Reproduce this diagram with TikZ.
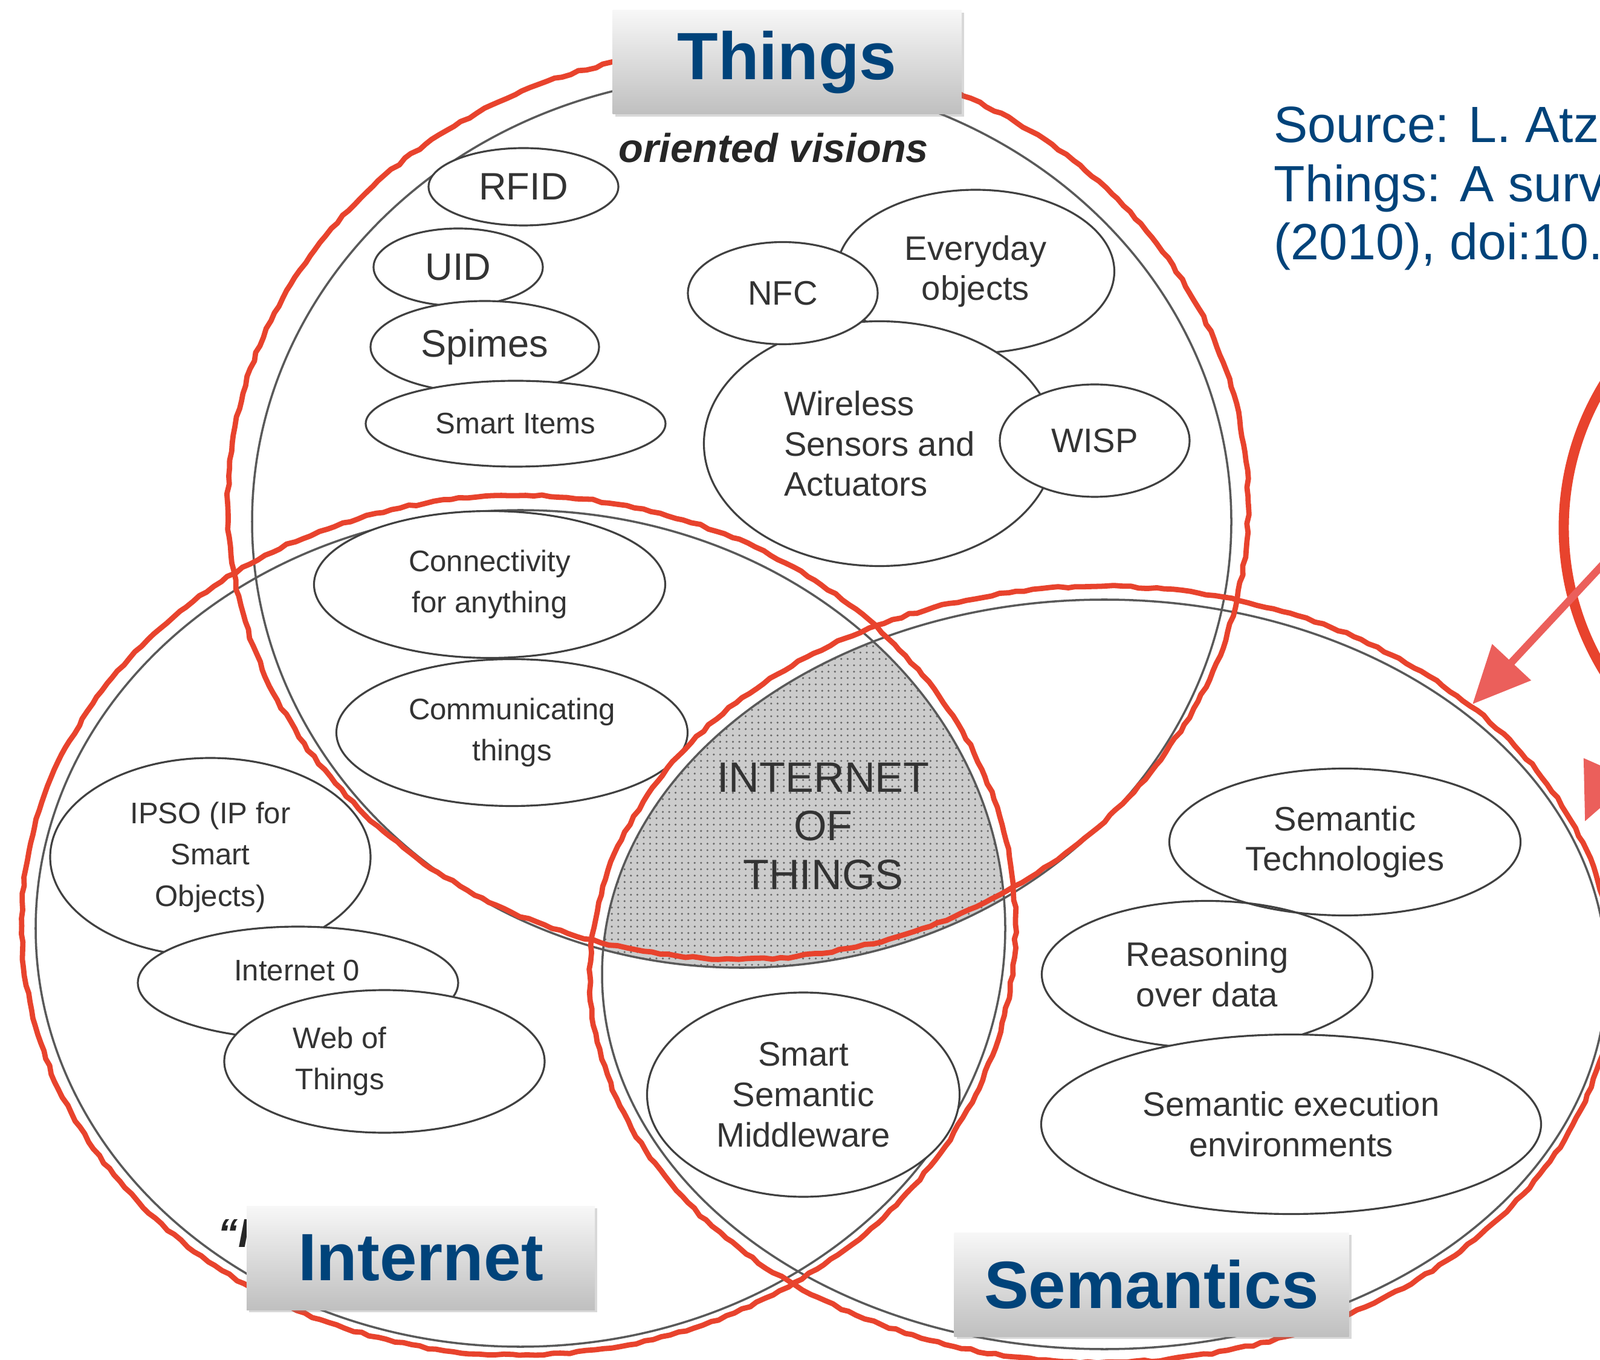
\documentclass[tikz,border=0pt]{standalone}
\usepackage{fontspec}
\setmainfont{Liberation Sans}
\usetikzlibrary{shapes.geometric,arrows.meta,patterns,shadows,decorations.pathmorphing}
\definecolor{ringred}{HTML}{E8432D}
\definecolor{arrowred}{HTML}{EB5F5B}
\definecolor{titleblue}{HTML}{00437A}
\definecolor{inkgray}{HTML}{333333}

\begin{document}
\begin{tikzpicture}[
  bubble/.style={draw=black!75, line width=0.9pt, ellipse, inner sep=0pt, align=center, text=inkgray, font=\fontsize{16}{19}\selectfont},
  filled/.style={bubble, fill=white},
  words/.style={align=center, inner sep=0pt, text=inkgray, font=\fontsize{14}{19.5}\selectfont},
  small/.style={font=\fontsize{14}{19.5}\selectfont},
  big/.style={font=\fontsize{18}{21}\selectfont},
  grayring/.style={draw=black!65, line width=1pt},
  redring/.style={draw=ringred, line width=2.5pt, line join=round, decorate, decoration={random steps, segment length=4pt, amplitude=0.5pt}},
  titlebox/.style={top color=black!3, bottom color=black!25, minimum height=1.72cm, inner sep=0pt, text=titleblue, font=\fontsize{31.5}{36}\bfseries\selectfont, drop shadow={opacity=0.3, shadow xshift=0.04cm, shadow yshift=-0.04cm}},
  vision/.style={text=black!85, inner sep=0pt, font=\fontsize{19}{22}\bfseries\itshape\selectfont},
  source/.style={anchor=base west, inner sep=0pt, text=titleblue, font=\fontsize{24}{28}\selectfont},
  pointer/.style={draw=arrowred, line width=3.5pt, -{Triangle[length=0.95cm, width=0.85cm]}}
]
\useasboundingbox (0,0) rectangle (26.47,-22.5);
\clip (0,0) rectangle (26.47,-22.5);
\fill[white] (0,0) rectangle (26.47,-22.5);

% shaded common part
\begin{scope}
\clip (12.27,-8.63) ellipse (8.10 and 7.38);
\clip (8.61,-15.36) ellipse (8.02 and 6.92);
\fill[black!20] (18.27,-16.12) ellipse (8.31 and 6.20);
\pattern[pattern=dots, pattern color=black!60] (18.27,-16.12) ellipse (8.31 and 6.20);
\end{scope}

\draw[grayring] (12.27,-8.63) ellipse (8.10 and 7.38);
\draw[grayring] (8.61,-15.36) ellipse (8.02 and 6.92);
\draw[grayring] (18.27,-16.12) ellipse (8.31 and 6.20);

% things side
\node[filled, big, minimum width=3.14cm, minimum height=1.28cm] (rfid) at (8.66,-3.09) {RFID};
\node[filled, big, minimum width=2.80cm, minimum height=1.28cm] (uid) at (7.58,-4.42) {UID};
\node[filled, big, minimum width=3.78cm, minimum height=1.52cm] (spimes) at (8.02,-5.74) {Spimes};
\node[filled, small, minimum width=4.96cm, minimum height=1.42cm] (items) at (8.53,-7.01) {Smart Items};

\node[filled, minimum width=4.59cm, minimum height=2.70cm] (everyday) at (16.14,-4.49) {Everyday\\objects};
\node[filled, align=left, minimum width=5.81cm, minimum height=4.05cm] (wsn) at (14.55,-7.34) {Wireless\\Sensors and\\Actuators};
\node[filled, minimum width=3.14cm, minimum height=1.69cm] (nfc) at (12.95,-4.85) {NFC};
\node[filled, minimum width=3.14cm, minimum height=1.86cm] (wisp) at (18.11,-7.29) {WISP};

\node[filled, small, minimum width=5.81cm, minimum height=2.43cm] (conn) at (8.10,-9.67) {Connectivity\\for anything};
\node[filled, small, minimum width=5.81cm, minimum height=2.43cm] (comm) at (8.47,-12.12) {Communicating\\things};

\node[vision] (thingsvision) at (12.80,-2.45) {oriented visions};

% internet side
\node[filled, small, minimum width=5.30cm, minimum height=3.28cm] (ipso) at (3.48,-14.18) {IPSO (IP for\\Smart\\Objects)};
\node[filled, minimum width=5.30cm, minimum height=1.86cm] (inet0) at (4.93,-16.26) {};
\node[words] (inet0text) at (4.91,-16.06) {Internet 0};
\node[filled, minimum width=5.30cm, minimum height=2.36cm] (wot) at (6.36,-17.56) {};
\node[words] (wottext) at (5.62,-17.56) {Web of\\Things};

\node[vision, anchor=base west] (inetvision) at (3.60,-20.63) {“I};

% semantic side
\node[filled, minimum width=5.17cm, minimum height=3.38cm] (middleware) at (13.29,-18.11) {Smart\\Semantic\\Middleware};
\node[bubble, minimum width=5.81cm, minimum height=2.43cm] (semtech) at (22.25,-13.93) {Semantic\\Technologies};
\node[bubble, minimum width=5.47cm, minimum height=2.43cm] (reason) at (19.97,-16.12) {Reasoning\\over data};
\node[filled, minimum width=8.27cm, minimum height=2.97cm] (exec) at (21.36,-18.60) {Semantic execution\\environments};

\node[text=black!80, align=center, font=\fontsize{20}{23}\selectfont] (iot) at (13.62,-13.67) {INTERNET\\OF\\THINGS};

% red marks
\draw[redring] (12.21,-8.34) ellipse (8.44 and 7.53);
\draw[redring] (8.58,-15.31) ellipse (8.22 and 7.11);
\draw[redring] (18.22,-16.12) ellipse (8.46 and 6.42);

\draw[draw=ringred, line width=4.8pt] (30.43,-8.73) circle (4.56);

\coordinate (arrAstart) at (26.60,-9.25);
\coordinate (arrAtip) at (24.36,-11.65);
\draw[pointer] (arrAstart) -- (arrAtip);
\coordinate (arrBstart) at (27.00,-11.82);
\coordinate (arrBtip) at (26.22,-13.59);
\draw[pointer] (arrBstart) -- (arrBtip);

% titles
\node[titlebox, minimum width=5.77cm] (things) at (13.02,-1.03) {Things};
\node[titlebox, minimum width=5.76cm] (internet) at (6.96,-20.81) {Internet};
\node[titlebox, minimum width=6.53cm] (semantics) at (19.05,-21.25) {Semantics};

\node[source] (src1) at (21.07,-2.36) {Source: L. Atzo};
\node[source] (src2) at (21.07,-3.34) {Things: A surve};
\node[source] (src3) at (21.07,-4.30) {(2010), doi:10.};
\end{tikzpicture}
\end{document}
